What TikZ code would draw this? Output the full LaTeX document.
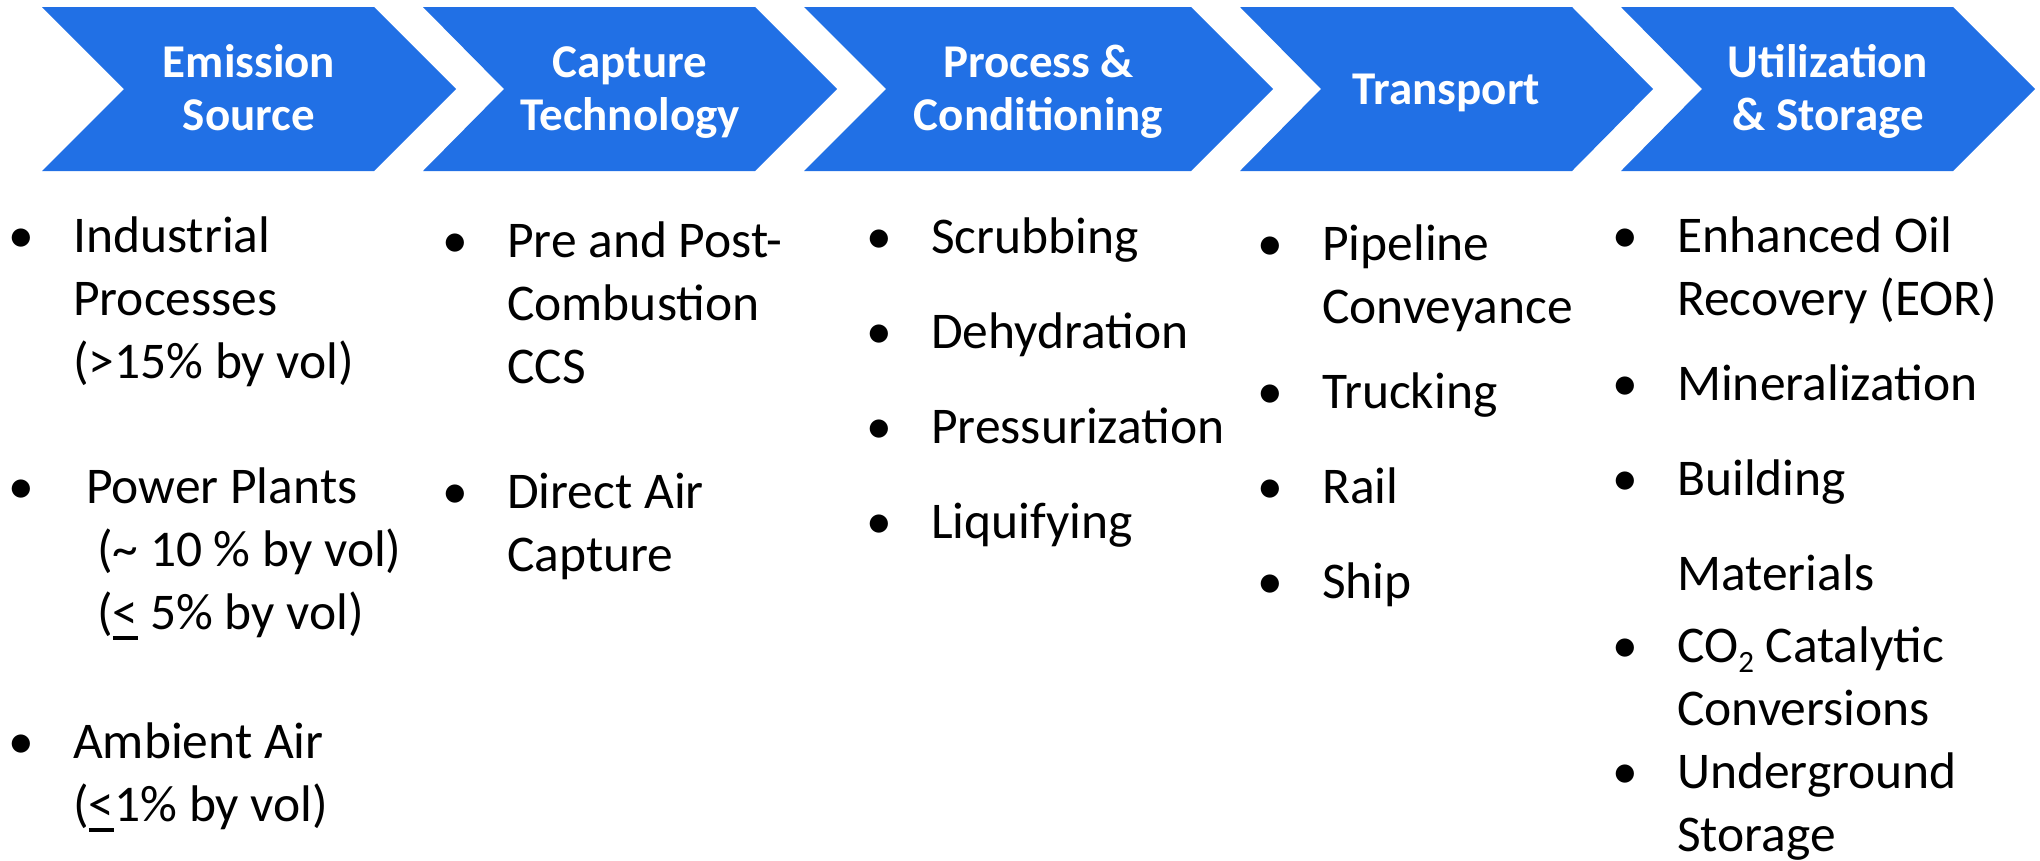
\documentclass[tikz,border=0pt]{standalone}
\usepackage{fontspec}
\setmainfont{Carlito}
\definecolor{chevblue}{RGB}{33,112,229}
\newcommand\hstrut{\rule[-10pt]{0pt}{50pt}}
\newcommand\bstrut{\rule[-13pt]{0pt}{63pt}}
\newcommand\ulless{\setbox0\hbox{<}\rlap{\rule[-11pt]{\wd0}{4pt}}\box0\relax}
\newcommand\bul{\llap{\textbullet\hspace{39.5pt}}}
\begin{document}
\begin{tikzpicture}[x=1pt,y=-1pt,
  every node/.style={inner sep=0pt},
  chev/.style={fill=chevblue},
  head/.style={text=white,font=\bfseries\fontsize{47}{53}\selectfont,align=center,anchor=center},
  item/.style={anchor=north west,align=left,font=\fontsize{51.5}{63}\selectfont}]
\useasboundingbox (0,0) rectangle (2040,860);
% chevrons
\foreach \l/\n/\f/\t in {42/124/374/456,423/504/755/837,804/886/1191/1273,1240/1321/1572/1653,1621/1702/1953/2035}
  \fill[chev] (\l,7) -- (\f,7) -- (\t,89) -- (\f,171) -- (\l,171) -- (\n,89) -- cycle;
% headers
\node[head] (h1) at (249,89) {\hstrut Emission\\\hstrut Source};
\node[head] (h2) at (630,89) {\hstrut Capture\\\hstrut Technology};
\node[head] (h3) at (1038.5,89) {\hstrut Process \&\\\hstrut Conditioning};
\node[head] (h4) at (1446.5,89) {\hstrut Transport};
\node[head] (h5) at (1828,89) {\hstrut Utilization\\\hstrut \& Storage};
% column 1
\node[item] (a1) at (73,202) {\bul\bstrut Industrial\\Processes\\(>15\% by vol)};
\node[item] (a2) at (73,453) {\bul\bstrut\hspace*{13pt}Power Plants\\\hspace*{24pt}(\textasciitilde{} 10 \% by vol)\\\hspace*{24pt}(\ulless{} 5\% by vol)};
\node[item] (a3) at (73,708) {\bul\bstrut Ambient Air\\(\ulless{}1\% by vol)};
% column 2
\node[item] (b1) at (507,207) {\bul\bstrut Pre and Post-\\Combustion\\CCS};
\node[item] (b2) at (507,458) {\bul\bstrut Direct Air\\Capture};
% column 3
\node[item] (c1) at (931,203) {\bul\bstrut Scrubbing};
\node[item] (c2) at (931,298) {\bul\bstrut Dehydration};
\node[item] (c3) at (931,393) {\bul\bstrut Pressurization};
\node[item] (c4) at (931,488) {\bul\bstrut Liquifying};
% column 4
\node[item] (d1) at (1322,210) {\bul\bstrut Pipeline\\Conveyance};
\node[item] (d2) at (1322,358) {\bul\bstrut Trucking};
\node[item] (d3) at (1322,453) {\bul\bstrut Rail};
\node[item] (d4) at (1322,548) {\bul\bstrut Ship};
% column 5
\node[item] (e1) at (1677,202) {\bul\bstrut Enhanced Oil\\Recovery (EOR)};
\node[item] (e2) at (1677,350) {\bul\bstrut Mineralization};
\node[item] (e3) at (1677,445) {\bul\bstrut Building\\[32pt]Materials};
\node[item] (e4) at (1677,612) {\bul\bstrut CO\raisebox{-10pt}{\fontsize{31}{31}\selectfont 2} Catalytic\\Conversions};
\node[item] (e5) at (1677,738) {\bul\bstrut Underground\\Storage};
\end{tikzpicture}
\end{document}
